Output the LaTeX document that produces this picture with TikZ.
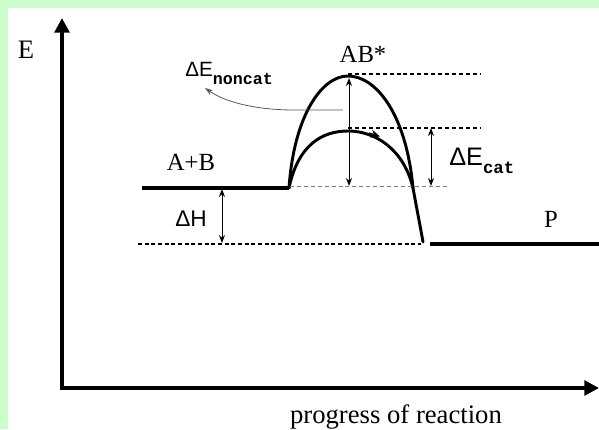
\documentclass[tikz,border=0pt]{standalone}
\usepackage{fontspec}
\setmainfont{Liberation Serif}
\setsansfont{Liberation Sans}
\setmonofont{Liberation Mono}
\usepackage{tikz}
\usetikzlibrary{arrows.meta,positioning}

\definecolor{bggreen}{RGB}{204,255,204}

\begin{document}
\begin{tikzpicture}[x=0.75pt, y=-0.75pt,
    axis/.style={line width=3pt, -{Triangle[length=11pt,width=11pt]}},
    level/.style={line width=3pt},
    hump/.style={line width=2.2pt, line cap=round},
    guide/.style={dashed, line width=0.9pt, dash pattern=on 3pt off 2.2pt},
    dimarrow/.style={line width=0.7pt, {Stealth[length=6pt,width=4.5pt]}-{Stealth[length=6pt,width=4.5pt]}},
    lbl/.style={anchor=base, inner sep=0pt, font=\fontsize{18.5}{18.5}\selectfont}]
    \useasboundingbox (0,0) rectangle (599,429);
    \fill[bggreen] (0,0) rectangle (599,429);
    \fill[white] (8,8) rectangle (599,429);

    % axes
    \coordinate (orig) at (62,388);
    \coordinate (ytop) at (62,18);
    \coordinate (xend) at (599,388);
    \draw[axis] ([xshift=-1.5pt]orig) -- (xend);
    \draw[axis] ([yshift=-1.5pt]orig) -- (ytop);
    \node[lbl, font=\fontsize{20}{20}\selectfont] (elab) at (26,58) {E};
    \node[lbl, font=\fontsize{20}{20}\selectfont] (xlab) at (396,423) {progress of reaction};

    % levels
    \coordinate (abl) at (142,188);
    \coordinate (ts) at (289,188);
    \coordinate (te) at (413,188);
    \coordinate (pend) at (423,242);
    \coordinate (pl) at (430,244);
    \coordinate (pr) at (599,244);
    \draw[level] (abl) -- (ts);
    \draw[level] (pl) -- (pr);
    \node[lbl] (ab) at (191,170) {A+B};
    \node[lbl] (p) at (551,227) {P};
    \node[lbl] (abstar) at (363,62) {AB*};

    % energy curves
    \coordinate (ncpk) at (348,76);
    \coordinate (cpk) at (348,131);
    \draw[hump] (ts) .. controls (294,115) and (322,76) .. (ncpk)
        .. controls (375,76) and (406,112) .. (te) .. controls (417,210) and (420,225) .. (pend);
    \draw[hump] (ts) .. controls (298,145) and (322,131) .. (cpk)
        .. controls (376,131) and (404,150) .. (te);
    % small arrowhead on the catalysed path
    \coordinate (mk1) at (369,133);
    \coordinate (mk2) at (380,136.5);
    \draw[line width=1pt, -{Stealth[length=7pt,width=6pt]}] (mk1) -- (mk2);

    % guide lines
    \coordinate (g1l) at (348,74);
    \coordinate (g1r) at (480,74);
    \coordinate (g2l) at (348,128);
    \coordinate (g2r) at (480,128);
    \coordinate (g3l) at (290,186);
    \coordinate (g3r) at (447,186);
    \coordinate (g4l) at (138,244);
    \coordinate (g4r) at (421,244);
    \draw[guide] (g1l) -- (g1r);
    \draw[guide] (g2l) -- (g2r);
    \draw[guide, gray, line width=0.6pt] (g3l) -- (g3r);
    \draw[guide, densely dashed, line width=1pt] (g4l) -- (g4r);

    % energy differences
    \draw[dimarrow] (349,78) -- (349,186);
    \draw[dimarrow] (431,128) -- (431,186);
    \draw[dimarrow] (222,189) -- (222,243);
    \node[anchor=base west, inner sep=0pt] (dec) at (449,165)
        {\sffamily\fontsize{19}{19}\selectfont ΔE\raisebox{-6pt}{\ttfamily\bfseries\fontsize{13}{13}\selectfont cat}};
    \node[anchor=base west, inner sep=0pt] (dh) at (175,226)
        {\sffamily\fontsize{17}{17}\selectfont ΔH};
    \node[anchor=base west, inner sep=0pt] (dnc) at (185,76)
        {\sffamily\fontsize{15.5}{15.5}\selectfont ΔE\raisebox{-6.5pt}{\ttfamily\bfseries\fontsize{12.5}{12.5}\selectfont noncat}};

    % leader to noncat label
    \coordinate (ldr) at (343,110);
    \coordinate (ldrtip) at (205,88);
    \draw[gray!70!black, line width=0.6pt, -{Stealth[length=6pt,width=4pt]}]
        (ldr) -- (295,110) .. controls (255,110) and (225,102) .. (ldrtip);
\end{tikzpicture}
\end{document}
